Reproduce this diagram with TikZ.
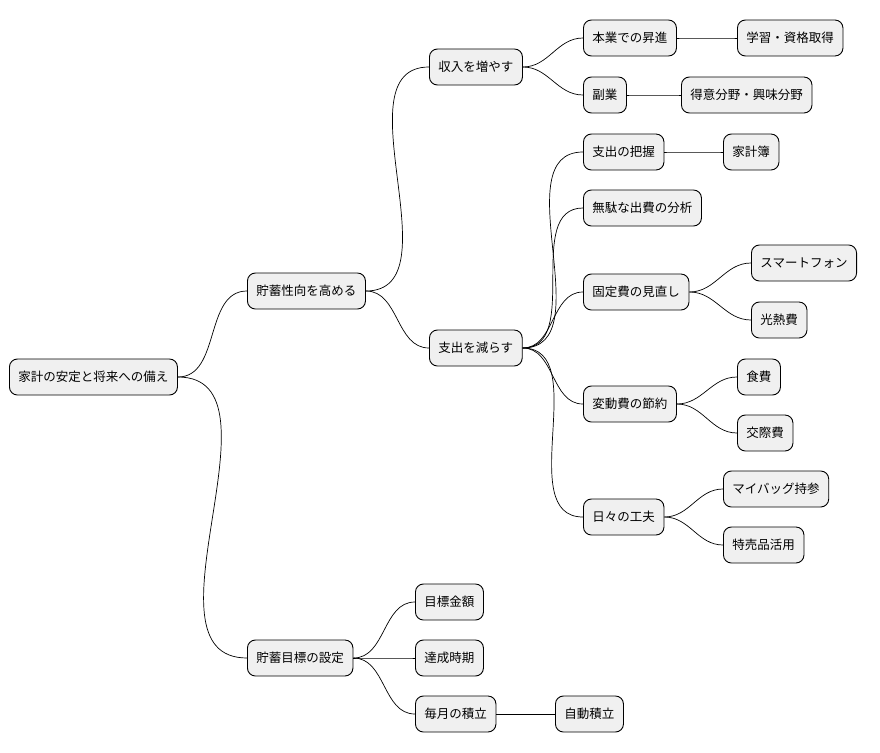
\documentclass[tikz,border=0pt]{standalone}
\usepackage{fontspec}
\setmainfont{Noto Sans CJK JP}
\tikzset{
  % Specifications for style of nodes:
  base/.style = {
    rectangle,
    rounded corners=8pt,
    draw=black,
    line width=0.9pt,
    fill=gray!12,
    text centered,
    anchor=west,
    minimum height=36pt,
    inner xsep=9pt,
    font=\fontsize{12.5}{14}\selectfont
  },
  branch/.style = {
    draw=black,
    line width=0.7pt,
    out=0,
    in=180
  },
}
\begin{document}
\begin{tikzpicture}[x=1pt,y=-1pt]
    \useasboundingbox (0,0) rectangle (880,752);
    % Specification of nodes (position, etc.)
    \node[base] (root)  at (9,377)   {家計の安定と将来への備え};
    \node[base] (save)  at (247,291) {貯蓄性向を高める};
    \node[base] (inc)   at (429,67)  {収入を増やす};
    \node[base] (job)   at (583,38)  {本業での昇進};
    \node[base] (study) at (737,38)  {学習・資格取得};
    \node[base] (side)  at (583,95)  {副業};
    \node[base] (skill) at (681,95)  {得意分野・興味分野};
    \node[base] (exp)   at (429,348) {支出を減らす};
    \node[base] (grasp) at (583,152) {支出の把握};
    \node[base] (book)  at (723,152) {家計簿};
    \node[base] (waste) at (583,208) {無駄な出費の分析};
    \node[base] (fixed) at (583,292) {固定費の見直し};
    \node[base] (phone) at (751,263) {スマートフォン};
    \node[base] (util)  at (751,320) {光熱費};
    \node[base] (var)   at (583,404) {変動費の節約};
    \node[base] (food)  at (737,377) {食費};
    \node[base] (soc)   at (737,433) {交際費};
    \node[base] (daily) at (583,517) {日々の工夫};
    \node[base] (bag)   at (723,489) {マイバッグ持参};
    \node[base] (sale)  at (723,545) {特売品活用};
    \node[base] (goal)  at (247,658) {貯蓄目標の設定};
    \node[base] (amt)   at (415,602) {目標金額};
    \node[base] (when)  at (415,658) {達成時期};
    \node[base] (month) at (415,714) {毎月の積立};
    \node[base] (auto)  at (555,714) {自動積立};
    % Connectors
    \foreach \p/\c in {root/save, root/goal, save/inc, save/exp, inc/job, job/study,
                       inc/side, side/skill, exp/grasp, grasp/book, exp/waste, exp/fixed,
                       fixed/phone, fixed/util, exp/var, var/food, var/soc, exp/daily,
                       daily/bag, daily/sale, goal/amt, goal/when, goal/month, month/auto}
      \draw[branch] (\p.east) to (\c.west);
  \end{tikzpicture}
\end{document}
